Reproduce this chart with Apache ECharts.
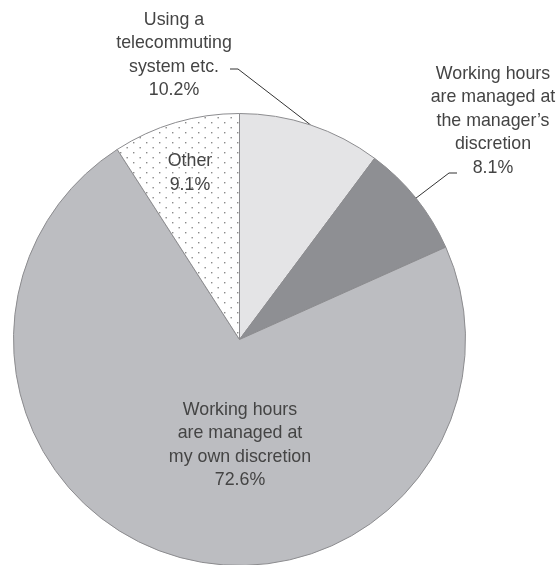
<!DOCTYPE html>
<html>
<head>
<meta charset="utf-8">
<script src="https://cdn.jsdelivr.net/npm/echarts@6/dist/echarts.min.js"></script>
<style>
  html, body { margin: 0; padding: 0; background: #fff; }
  #main { width: 557px; height: 565px; }
</style>
</head>
<body>
<div id="main"></div>
<script>
var chart = echarts.init(document.getElementById('main'));

// slices, clockwise from 12 o'clock
var names = [
  'Using a\ntelecommuting\nsystem etc.',
  'Working hours\nare managed at\nthe manager\u2019s\ndiscretion',
  'Working hours\nare managed at\nmy own discretion',
  'Other'
];
var values = [10.2, 8.1, 72.6, 9.1];
var colors = ['#e4e4e6', '#8e8f93', '#bcbdc1', 'dots'];

// label centres and leader line bends (layout only)
var labelPos = [[174, 55], [493, 121], [240, 445], [190, 173]];
var bends = [
  [[238, 69], [230, 69]],
  [[449, 173], [457, 173]],
  null,
  null
];

// dotted fill for "Other"
function dotPattern() {
  var c = document.createElement('canvas');
  c.width = 13; c.height = 10;
  var ctx = c.getContext('2d');
  ctx.fillStyle = '#fff';
  ctx.fillRect(0, 0, 13, 10);
  ctx.fillStyle = '#8a8a8a';
  ctx.fillRect(3, 2, 1.4, 1.4);
  ctx.fillRect(9.5, 7, 1.4, 1.4);
  return { image: c, repeat: 'repeat' };
}

var data = names.map(function (n, i) {
  return {
    name: n,
    value: values[i],
    itemStyle: { color: colors[i] === 'dots' ? dotPattern() : colors[i] },
    labelLine: { show: bends[i] !== null }
  };
});

var option = {
  animation: false,
  series: [{
    type: 'pie',
    center: [239.5, 339.5],
    radius: 226,
    startAngle: 90,
    clockwise: true,
    data: data,
    itemStyle: { borderColor: '#8c8c8f', borderWidth: 1 },
    label: {
      show: true,
      position: 'outside',
      formatter: '{b}\n{c}%',
      fontFamily: 'Liberation Sans',
      fontSize: 17.8,
      lineHeight: 23.5,
      color: '#444',
      align: 'center',
      overflow: 'none'
    },
    labelLine: {
      show: true,
      lineStyle: { color: '#333', width: 1 }
    },
    labelLayout: function (p) {
      var i = p.dataIndex;
      var res = {
        x: labelPos[i][0],
        y: labelPos[i][1],
        align: 'center',
        verticalAlign: 'middle'
      };
      if (bends[i] && p.labelLinePoints) {
        res.labelLinePoints = [p.labelLinePoints[0], bends[i][0], bends[i][1]];
      }
      return res;
    }
  }]
};

chart.setOption(option);
</script>
</body>
</html>
